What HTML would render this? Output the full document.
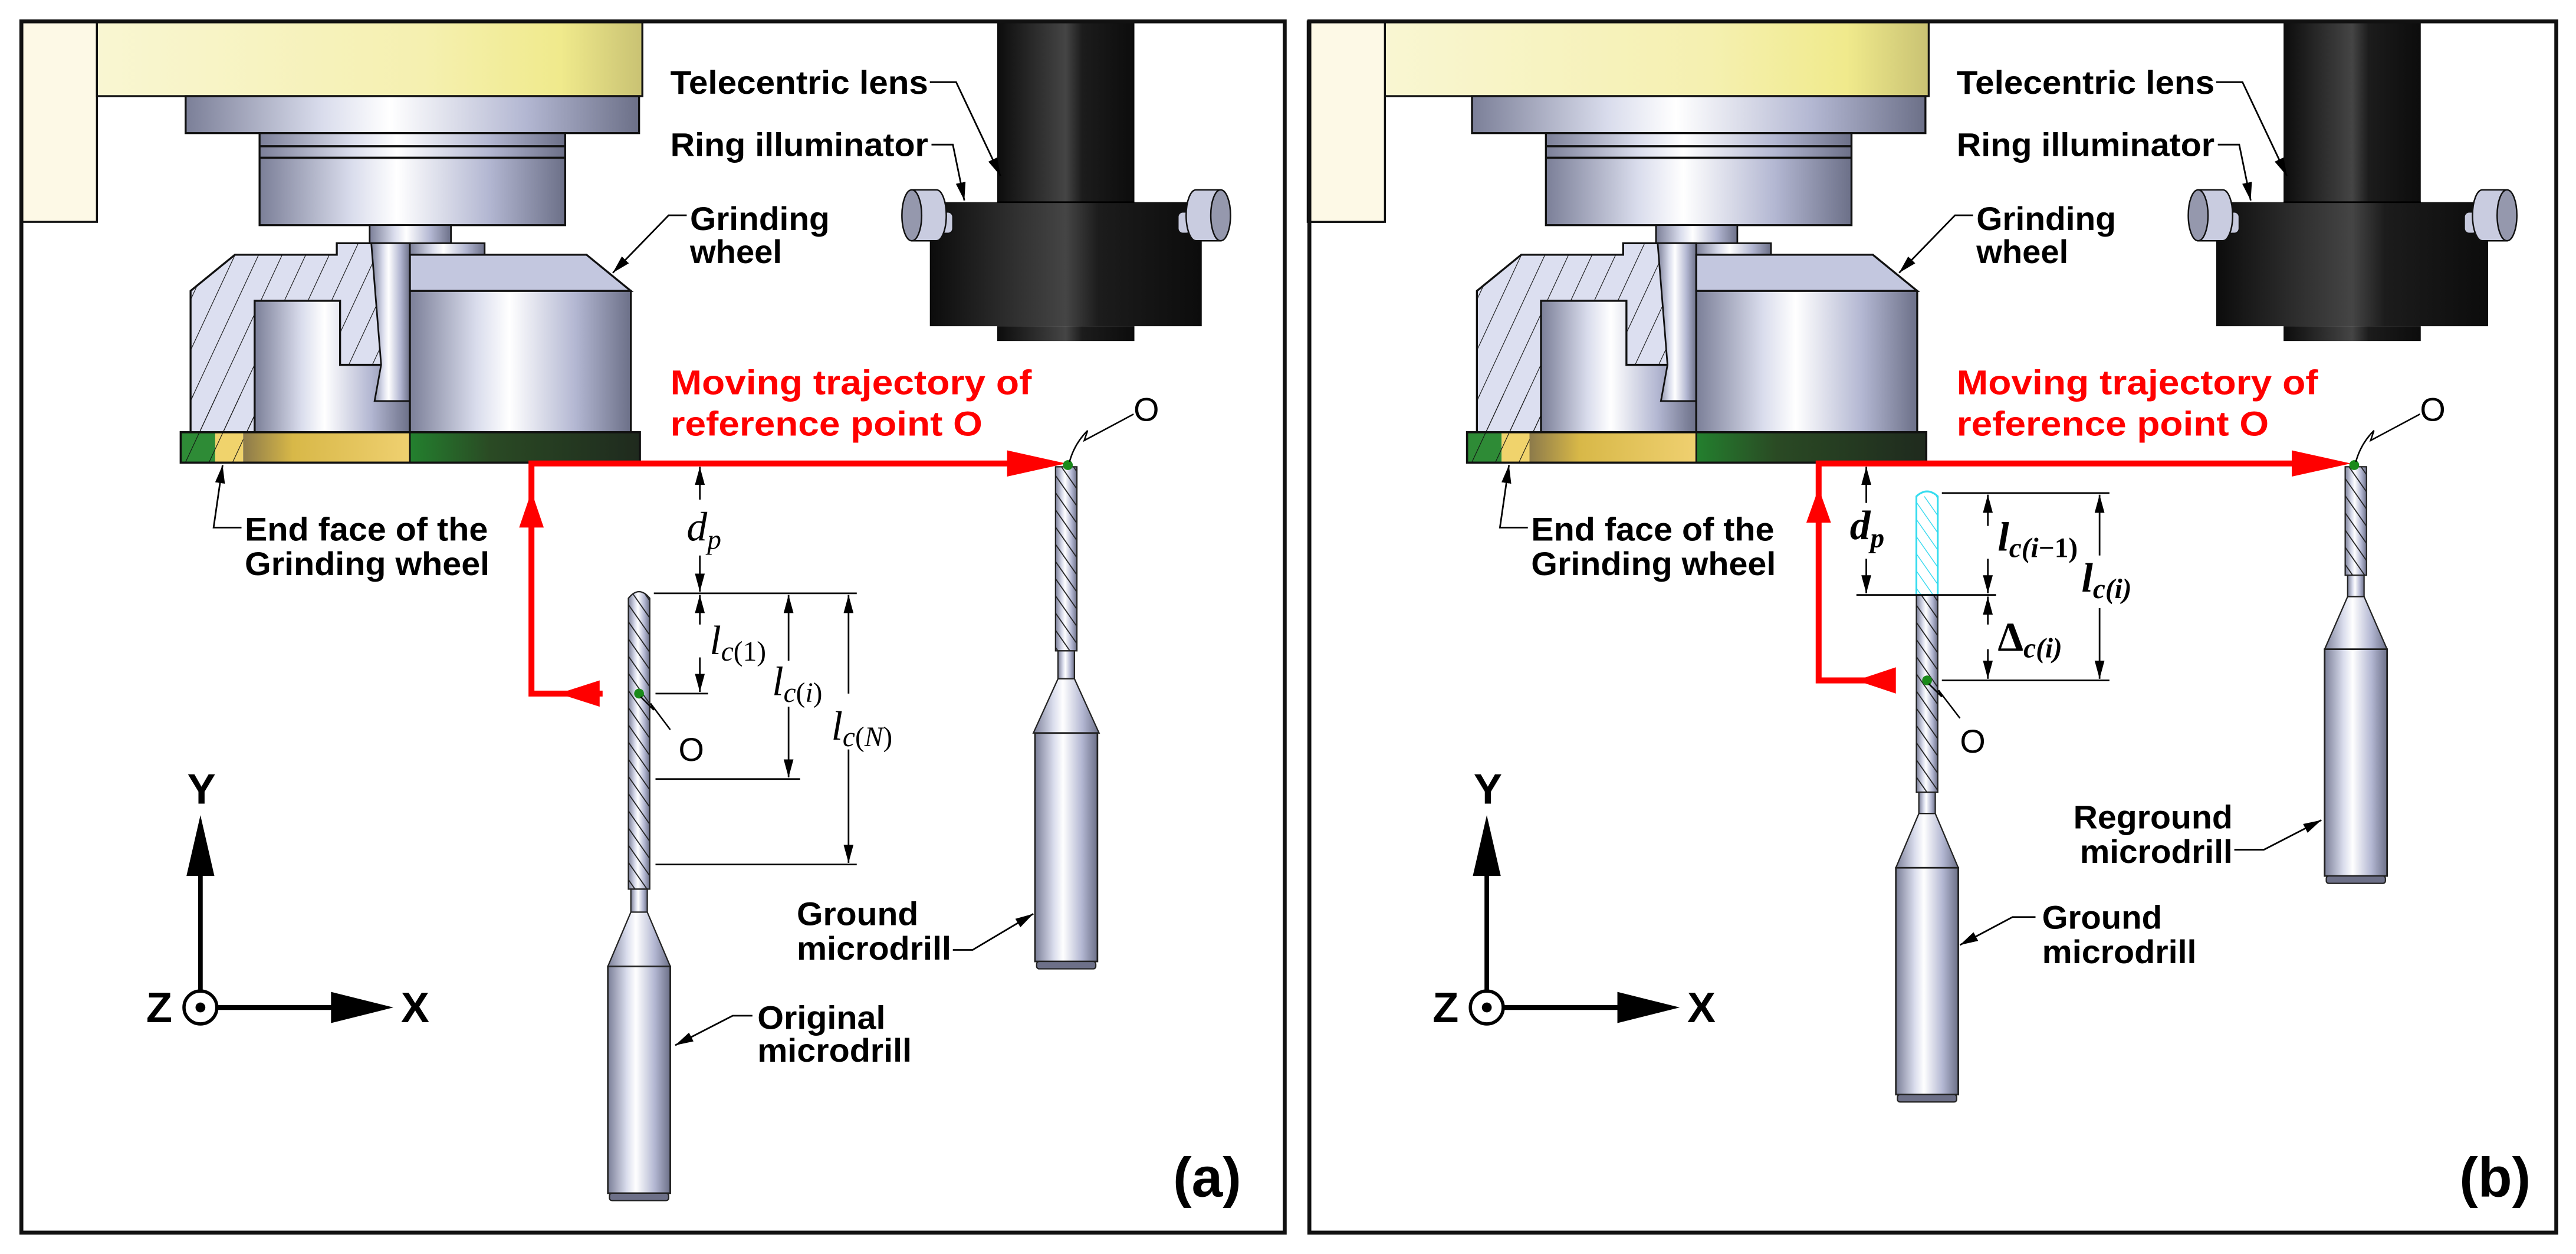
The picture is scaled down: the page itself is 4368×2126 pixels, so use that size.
<!DOCTYPE html>
<html><head><meta charset="utf-8"><style>html,body{margin:0;padding:0;background:#fff}svg{display:block}</style></head>
<body>
<svg xmlns="http://www.w3.org/2000/svg" width="4368" height="2126" viewBox="0 0 1568 763" preserveAspectRatio="none">
<defs>
<linearGradient id="mv" x1="0" y1="0" x2="1" y2="0">
<stop offset="0" stop-color="#7b7f98"/><stop offset="0.3" stop-color="#d9dcec"/><stop offset="0.45" stop-color="#ffffff"/><stop offset="0.75" stop-color="#b3b7d2"/><stop offset="1" stop-color="#6c7088"/></linearGradient>
<linearGradient id="yel" x1="0" y1="0" x2="1" y2="0">
<stop offset="0" stop-color="#f9f6d2"/><stop offset="0.6" stop-color="#f5f0b0"/><stop offset="0.85" stop-color="#f0ea8c"/><stop offset="1" stop-color="#c9c273"/></linearGradient>
<linearGradient id="gold" x1="0" y1="0" x2="1" y2="0">
<stop offset="0" stop-color="#8c7a4a"/><stop offset="0.3" stop-color="#d8b848"/><stop offset="1" stop-color="#efd070"/></linearGradient>
<linearGradient id="dg" x1="0" y1="0" x2="1" y2="0">
<stop offset="0" stop-color="#23802e"/><stop offset="0.35" stop-color="#2a4a24"/><stop offset="1" stop-color="#1f2a1e"/></linearGradient>
<linearGradient id="blk" x1="0" y1="0" x2="1" y2="0">
<stop offset="0" stop-color="#0c0c0c"/><stop offset="0.5" stop-color="#454545"/><stop offset="0.62" stop-color="#1c1c1c"/><stop offset="1" stop-color="#0c0c0c"/></linearGradient>
<pattern id="hatch" patternUnits="userSpaceOnUse" width="13" height="13" patternTransform="rotate(25)">
<line x1="0" y1="0" x2="0" y2="13" stroke="#111" stroke-width="0.8"/></pattern>
<pattern id="flute" patternUnits="userSpaceOnUse" width="6" height="6" patternTransform="rotate(-35)">
<line x1="0" y1="0" x2="0" y2="6" stroke="#222" stroke-width="1.3"/></pattern>
<pattern id="fluteC" patternUnits="userSpaceOnUse" width="6" height="6" patternTransform="rotate(-35)">
<line x1="0" y1="0" x2="0" y2="6" stroke="#30d8ee" stroke-width="1"/></pattern>
<marker id="ab" markerUnits="userSpaceOnUse" markerWidth="12" markerHeight="8" refX="11" refY="4" orient="auto"><path d="M0,1 L11,4 L0,7 Z" fill="#000"/></marker>
<clipPath id="hclip"><path d="M143,155 L205,155 L205,148 L226,148 L249.5,244 L249.5,222 L207,222 L207,183 L155,183 L155,281 L116,281 L116,177 Z"/></clipPath>
</defs>
<rect width="1568" height="763" fill="#fff"/>

<g id="machine">
<!-- cream block -->
<rect x="13" y="13" width="46" height="122" fill="#fdf9e6" stroke="#111" stroke-width="1.2"/>
<!-- yellow head -->
<rect x="59" y="13" width="332" height="45.5" fill="url(#yel)" stroke="#111" stroke-width="1.2"/>
<!-- flange -->
<rect x="113" y="58.5" width="276" height="22.5" fill="url(#mv)" stroke="#111" stroke-width="1.2"/>
<!-- spindle -->
<rect x="158" y="81" width="186" height="56" fill="url(#mv)" stroke="#111" stroke-width="1.2"/>
<line x1="158" y1="89" x2="344" y2="89" stroke="#111" stroke-width="1.3"/>
<line x1="158" y1="96" x2="344" y2="96" stroke="#111" stroke-width="1.3"/>
<!-- shaft -->
<rect x="225" y="137" width="49.5" height="11" fill="url(#mv)" stroke="#111" stroke-width="1"/>
<!-- wheel body left section -->
<path d="M143,155 L205,155 L205,148 L249.5,148 L249.5,263 L116,263 L116,177 Z" fill="#dcdff0" stroke="#111" stroke-width="1.2"/>
<rect x="110" y="240" width="140" height="45" fill="url(#hatch)" clip-path="url(#hclip)"/>
<rect x="100" y="140" width="160" height="145" fill="url(#hatch)" clip-path="url(#hclip)"/>
<!-- cavity -->
<path d="M155,183 L207,183 L207,222 L249.5,222 L249.5,263 L155,263 Z" fill="url(#mv)" stroke="#111" stroke-width="1.2"/>
<!-- pin -->
<path d="M226,148 L249.5,148 L249.5,244 L228,244 L232,222 Z" fill="url(#mv)" stroke="#111" stroke-width="1"/>
<!-- right half -->
<rect x="249.5" y="148" width="45.5" height="7" fill="url(#mv)" stroke="#111" stroke-width="1"/>
<path d="M249.5,155 L357,155 L384,177 L249.5,177 Z" fill="#c3c7df" stroke="#111" stroke-width="1.2"/>
<rect x="249.5" y="177" width="134.5" height="86" fill="url(#mv)" stroke="#111" stroke-width="1.2"/>
<!-- bottom band -->
<rect x="110" y="263" width="21" height="18.5" fill="#2e8b36"/>
<rect x="131" y="263" width="17" height="18.5" fill="#f0d36c"/>
<rect x="148" y="263" width="101.5" height="18.5" fill="url(#gold)"/>
<rect x="249.5" y="263" width="140" height="18.5" fill="url(#dg)"/>
<rect x="110" y="263" width="38" height="18.5" fill="url(#hatch)"/>
<rect x="110" y="263" width="279.5" height="18.5" fill="none" stroke="#111" stroke-width="1.3"/>
<line x1="249.5" y1="263" x2="249.5" y2="281.5" stroke="#111" stroke-width="1"/>

<!-- lens -->
<rect x="607" y="13" width="83.5" height="110" fill="url(#blk)"/>
<rect x="566" y="123" width="165.5" height="75.5" fill="url(#blk)"/>
<rect x="607" y="198.5" width="83.5" height="9" fill="url(#blk)"/>
<line x1="607" y1="123" x2="690.5" y2="123" stroke="#000" stroke-width="1"/>
<rect x="572" y="129" width="8" height="13" rx="3" fill="#c7cade" stroke="#111" stroke-width="0.8"/>
<rect x="717" y="129" width="8" height="13" rx="3" fill="#c7cade" stroke="#111" stroke-width="0.8"/>
<path d="M555,115.5 L570,115.5 A6,15.5 0 0 1 570,146.5 L555,146.5 Z" fill="#c9cce0" stroke="#111" stroke-width="0.9"/>
<ellipse cx="555" cy="131" rx="6" ry="15.5" fill="#9598ad" stroke="#111" stroke-width="0.9"/>
<path d="M743,115.5 L728,115.5 A6,15.5 0 0 0 728,146.5 L743,146.5 Z" fill="#c9cce0" stroke="#111" stroke-width="0.9"/>
<ellipse cx="743" cy="131" rx="6" ry="15.5" fill="#9598ad" stroke="#111" stroke-width="0.9"/>

<!-- labels -->
<g font-family="Liberation Sans, Arial, sans-serif" font-weight="bold" font-size="20" fill="#000">
<text x="408" y="57" textLength="157" lengthAdjust="spacingAndGlyphs">Telecentric lens</text>
<text x="408" y="95" textLength="157" lengthAdjust="spacingAndGlyphs">Ring illuminator</text>
<text x="420" y="140" textLength="85" lengthAdjust="spacingAndGlyphs">Grinding</text>
<text x="420" y="160" textLength="56" lengthAdjust="spacingAndGlyphs">wheel</text>
<text x="149" y="329" textLength="148" lengthAdjust="spacingAndGlyphs">End face of the</text>
<text x="149" y="350" textLength="149" lengthAdjust="spacingAndGlyphs">Grinding wheel</text>
</g>
<g stroke="#000" stroke-width="1" fill="none">
<path d="M566,50 L582,50 L609,107" marker-end="url(#ab)"/>
<path d="M567,88 L580,88 L587,122" marker-end="url(#ab)"/>
<path d="M418,131 L407,131 L373,166" marker-end="url(#ab)"/>
<path d="M147,321 L130,321 L135.5,283" marker-end="url(#ab)"/>
</g>
<g font-family="Liberation Sans, Arial, sans-serif" font-weight="bold" font-size="21" fill="#ff0000">
<text x="408" y="240" textLength="220" lengthAdjust="spacingAndGlyphs">Moving trajectory of</text>
<text x="408" y="265" textLength="190" lengthAdjust="spacingAndGlyphs">reference point O</text>
</g>
<!-- axes -->
<line x1="122" y1="530" x2="122" y2="603" stroke="#000" stroke-width="2.8"/>
<path d="M122,496 L113.5,533 L130.5,533 Z" fill="#000"/>
<circle cx="122" cy="613" r="10" fill="#fff" stroke="#000" stroke-width="2"/>
<circle cx="122" cy="613" r="3" fill="#000"/>
<line x1="132" y1="613" x2="204" y2="613" stroke="#000" stroke-width="3"/>
<path d="M201.5,603.5 L239.5,613 L201.5,622.5 Z" fill="#000"/>
<g font-family="Liberation Sans, Arial, sans-serif" font-weight="bold" font-size="26" fill="#000">
<text x="114" y="489">Y</text>
<text x="89" y="622">Z</text>
<text x="244" y="622">X</text>
</g>
</g>

<use href="#machine" transform="translate(783,0)"/>
<rect x="797" y="13" width="46" height="122" fill="#fdf9e6" stroke="#111" stroke-width="1.2"/>

<!-- panel frames -->
<rect x="13" y="13" width="769" height="737" fill="none" stroke="#111" stroke-width="2.4"/>
<rect x="797" y="13" width="759" height="737" fill="none" stroke="#111" stroke-width="2.4"/>

<!-- ===== PANEL A drills ===== -->
<g stroke="#222" stroke-width="0.8">
<!-- original drill a1: cx 389 -->
<path d="M382.5,364 Q389,356 395.5,364 L395.5,541 L382.5,541 Z" fill="url(#mv)"/>
<path d="M382.5,364 Q389,356 395.5,364 L395.5,541 L382.5,541 Z" fill="url(#flute)" stroke="none"/>
<rect x="384" y="541" width="10" height="14" fill="url(#mv)"/>
<polygon points="384,555 394,555 408,588 370,588" fill="url(#mv)"/>
<rect x="370" y="588" width="38" height="138" fill="url(#mv)" stroke-width="1"/>
<rect x="371" y="726" width="36" height="4.5" rx="1.5" fill="#6d7088"/>
<!-- ground drill a2: cx 649 -->
<path d="M642.5,284 L655.5,284 L655.5,396 L642.5,396 Z" fill="url(#mv)"/>
<rect x="642.5" y="284" width="13" height="112" fill="url(#flute)" stroke="none"/>
<rect x="644" y="396" width="10" height="17" fill="url(#mv)"/>
<polygon points="644,413 654,413 669,446 629,446" fill="url(#mv)"/>
<rect x="630" y="446" width="38" height="139" fill="url(#mv)" stroke-width="1"/>
<rect x="631" y="585" width="36" height="4.5" rx="1.5" fill="#6d7088"/>

<!-- panel b drill b1: cx 1173 -->
<path d="M1166.5,302 Q1173,296 1179.5,302 L1179.5,362 L1166.5,362 Z" fill="#fff" stroke="#35dcef" stroke-width="1.1"/>
<rect x="1166.5" y="302" width="13" height="60" fill="url(#fluteC)" stroke="none"/>
<rect x="1166.5" y="362" width="13" height="120" fill="url(#mv)"/>
<rect x="1166.5" y="362" width="13" height="120" fill="url(#flute)" stroke="none"/>
<rect x="1168" y="482" width="10" height="13" fill="url(#mv)"/>
<polygon points="1168,495 1178,495 1192,528 1154,528" fill="url(#mv)"/>
<rect x="1154" y="528" width="38" height="138" fill="url(#mv)" stroke-width="1"/>
<rect x="1155" y="666" width="36" height="4.5" rx="1.5" fill="#6d7088"/>
<!-- reground drill b2: cx 1434 -->
<rect x="1427.5" y="284" width="13" height="66" fill="url(#mv)"/>
<rect x="1427.5" y="284" width="13" height="66" fill="url(#flute)" stroke="none"/>
<rect x="1429" y="350" width="10" height="13" fill="url(#mv)"/>
<polygon points="1429,363 1439,363 1453,395 1415,395" fill="url(#mv)"/>
<rect x="1415" y="395" width="38" height="138" fill="url(#mv)" stroke-width="1"/>
<rect x="1416" y="533" width="36" height="4.5" rx="1.5" fill="#6d7088"/>
</g>

<!-- red trajectories -->
<g stroke="#ff0000" stroke-width="3.6" fill="none" stroke-linecap="square">
<path d="M615,282 L323.5,282 L323.5,422 L365,422"/>
<path d="M1395,282 L1107,282 L1107,414 L1146,414"/>
</g>
<g fill="#ff0000">
<path d="M649,282 L613,274 L613,290 Z"/>
<path d="M323.5,299 L316,321 L331,321 Z"/>
<path d="M340,422 L365,414 L365,430 Z"/>
<path d="M1431,282 L1395,274 L1395,290 Z"/>
<path d="M1107,297 L1099.5,318 L1114.5,318 Z"/>
<path d="M1130,414 L1154,406 L1154,422 Z"/>
</g>
<g fill="#1a8a1a">
<circle cx="650" cy="283" r="3"/><circle cx="389" cy="422" r="3"/>
<circle cx="1433" cy="283" r="3"/><circle cx="1173" cy="414" r="3"/>
</g>

<!-- O labels and squiggles -->
<g stroke="#000" stroke-width="0.9" fill="none">
<path d="M651,281 Q654,270 662,262 L660,268 L690,252"/>
<path d="M390,424 L398,432 L396,428 L408,444"/>
<path d="M1434,281 Q1437,270 1445,262 L1443,268 L1473,252"/>
<path d="M1174,416 L1182,424 L1180,420 L1193,437"/>
</g>
<g font-family="Liberation Sans, Arial, sans-serif" font-size="20" fill="#000">
<text x="690" y="256">O</text>
<text x="413" y="463">O</text>
<text x="1473" y="256">O</text>
<text x="1193" y="458">O</text>
</g>

<!-- dimensions panel a -->
<g stroke="#000" stroke-width="1" fill="none">
<line x1="398" y1="361" x2="521.5" y2="361"/>
<line x1="399" y1="422" x2="431" y2="422"/>
<line x1="399" y1="474" x2="487" y2="474"/>
<line x1="399" y1="526" x2="521.5" y2="526"/>
<line x1="426" y1="304" x2="426" y2="284" marker-end="url(#ab)"/>
<line x1="426" y1="338" x2="426" y2="360" marker-end="url(#ab)"/>
<line x1="426" y1="380" x2="426" y2="362" marker-end="url(#ab)"/>
<line x1="426" y1="400" x2="426" y2="421" marker-end="url(#ab)"/>
<line x1="480" y1="402" x2="480" y2="362" marker-end="url(#ab)"/>
<line x1="480" y1="430" x2="480" y2="473" marker-end="url(#ab)"/>
<line x1="516.5" y1="422" x2="516.5" y2="362" marker-end="url(#ab)"/>
<line x1="516.5" y1="456" x2="516.5" y2="525" marker-end="url(#ab)"/>
</g>
<!-- dimensions panel b -->
<g stroke="#000" stroke-width="1" fill="none">
<line x1="1182" y1="300" x2="1284" y2="300"/>
<line x1="1130" y1="362" x2="1215" y2="362"/>
<line x1="1182" y1="414" x2="1284" y2="414"/>
<line x1="1136" y1="306" x2="1136" y2="284" marker-end="url(#ab)"/>
<line x1="1136" y1="340" x2="1136" y2="361" marker-end="url(#ab)"/>
<line x1="1210" y1="320" x2="1210" y2="301" marker-end="url(#ab)"/>
<line x1="1210" y1="340" x2="1210" y2="361" marker-end="url(#ab)"/>
<line x1="1210" y1="380" x2="1210" y2="363" marker-end="url(#ab)"/>
<line x1="1210" y1="395" x2="1210" y2="413" marker-end="url(#ab)"/>
<line x1="1278" y1="338" x2="1278" y2="301" marker-end="url(#ab)"/>
<line x1="1278" y1="370" x2="1278" y2="413" marker-end="url(#ab)"/>
</g>
<g font-family="Liberation Serif, 'Times New Roman', serif" font-style="italic" font-size="25" fill="#000">
<text x="418" y="329" fill="#000">d<tspan font-size="17" dy="5">p</tspan></text>
<text x="432" y="398">l<tspan font-size="17" dy="4">c</tspan><tspan font-size="17" font-style="normal">(1)</tspan></text>
<text x="470" y="423">l<tspan font-size="17" dy="4">c</tspan><tspan font-size="17" font-style="normal">(</tspan><tspan font-size="17">i</tspan><tspan font-size="17" font-style="normal">)</tspan></text>
<text x="506" y="450">l<tspan font-size="17" dy="4">c</tspan><tspan font-size="17" font-style="normal">(</tspan><tspan font-size="17">N</tspan><tspan font-size="17" font-style="normal">)</tspan></text>
</g>
<g font-family="Liberation Serif, 'Times New Roman', serif" font-style="italic" font-weight="bold" font-size="25" fill="#000">
<text x="1126" y="328">d<tspan font-size="17" dy="5">p</tspan></text>
<text x="1216" y="335">l<tspan font-size="17" dy="4">c(i</tspan><tspan font-size="17" font-style="normal">−1)</tspan></text>
<text x="1216" y="396"><tspan font-style="normal">Δ</tspan><tspan font-size="17" dy="4">c(i)</tspan></text>
<text x="1267" y="360">l<tspan font-size="17" dy="4">c(i)</tspan></text>
</g>

<!-- drill labels -->
<g font-family="Liberation Sans, Arial, sans-serif" font-weight="bold" font-size="20" fill="#000">
<text x="485" y="563" textLength="74" lengthAdjust="spacingAndGlyphs">Ground</text>
<text x="485" y="584" textLength="94" lengthAdjust="spacingAndGlyphs">microdrill</text>
<text x="461" y="626" textLength="78" lengthAdjust="spacingAndGlyphs">Original</text>
<text x="461" y="646" textLength="94" lengthAdjust="spacingAndGlyphs">microdrill</text>
<text x="1262" y="504" textLength="97" lengthAdjust="spacingAndGlyphs">Reground</text>
<text x="1266" y="525" textLength="93" lengthAdjust="spacingAndGlyphs">microdrill</text>
<text x="1243" y="565" textLength="73" lengthAdjust="spacingAndGlyphs">Ground</text>
<text x="1243" y="586" textLength="94" lengthAdjust="spacingAndGlyphs">microdrill</text>
<text x="714" y="728" font-size="34">(a)</text>
<text x="1497" y="728" font-size="34">(b)</text>
</g>
<g stroke="#000" stroke-width="1" fill="none">
<path d="M580,578 L592,578 L629,556" marker-end="url(#ab)"/>
<path d="M458,618 L446,618 L411,636" marker-end="url(#ab)"/>
<path d="M1360,517 L1378,517 L1413,499" marker-end="url(#ab)"/>
<path d="M1239,558 L1225,558 L1193,575" marker-end="url(#ab)"/>
</g>
</svg>
</body></html>
